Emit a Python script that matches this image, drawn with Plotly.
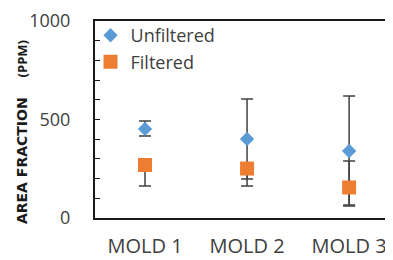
import plotly.graph_objects as go

categories = ["MOLD 1", "MOLD 2", "MOLD 3"]
unfiltered = [452, 401, 340]
unfiltered_err_plus = [40, 203, 279]
unfiltered_err_minus = [36, 203, 279]
filtered = [269, 251, 155]
filtered_err_plus = [25, 30, 134]
filtered_err_minus = [107, 89, 89]
y_ticks = [0, 500, 1000]

FONT = "Open Sans"
TXT = "#404040"

fig = go.Figure()
fig.add_trace(go.Scatter(
    x=categories, y=unfiltered, mode="markers", name="Unfiltered",
    marker=dict(symbol="diamond", size=11, color="#5B9BD5"),
    error_y=dict(type="data", symmetric=False, array=unfiltered_err_plus,
                 arrayminus=unfiltered_err_minus, color="#404040",
                 thickness=1.5, width=6),
))
fig.add_trace(go.Scatter(
    x=categories, y=filtered, mode="markers", name="Filtered",
    marker=dict(symbol="square", size=14, color="#ED7D31"),
    error_y=dict(type="data", symmetric=False, array=filtered_err_plus,
                 arrayminus=filtered_err_minus, color="#404040",
                 thickness=1.5, width=6),
))

# page body adds an 8px offset; margins compensate so the plot fills the window
fig.update_layout(
    width=393, height=260,
    margin=dict(l=87, r=8, t=13, b=50, autoexpand=False),
    paper_bgcolor="white", plot_bgcolor="white",
    showlegend=True,
    legend=dict(x=-0.015, y=1.02, xanchor="left", yanchor="top",
                font=dict(family=FONT, size=18, color=TXT),
                bgcolor="rgba(0,0,0,0)", borderwidth=0,
                itemwidth=30, tracegroupgap=0),
    xaxis=dict(
        type="category", range=[-0.49, 2.43], automargin=False,
        showline=True, linecolor="#1a1a1a", linewidth=2, mirror=True,
        ticks="", showgrid=False, zeroline=False,
        tickfont=dict(family=FONT, size=20, color=TXT),
        ticklabelstandoff=9,
    ),
    yaxis=dict(
        range=[0, 1000], tickvals=y_ticks, automargin=False,
        showline=True, linecolor="#1a1a1a", linewidth=2,
        ticks="inside", ticklen=5, tickcolor="#1a1a1a", tickwidth=1,
        minor=dict(dtick=100, ticks="inside", ticklen=5, tickcolor="#1a1a1a", tickwidth=1),
        showgrid=False, zeroline=False,
        tickfont=dict(family=FONT, size=18, color=TXT),
        ticklabelstandoff=19,
    ),
    annotations=[
        dict(text="AREA FRACTION",
             xref="paper", yref="paper", x=-0.245, y=0.294,
             xanchor="center", yanchor="middle", textangle=-90, showarrow=False,
             font=dict(family="DejaVu Sans", size=14, color="#1a1a1a", weight="bold")),
        dict(text="(PPM)",
             xref="paper", yref="paper", x=-0.245, y=0.81,
             xanchor="center", yanchor="middle", textangle=-90, showarrow=False,
             font=dict(family=FONT, size=13, color="#1a1a1a", weight="bold")),
    ],
)

fig.write_html("out.html")
